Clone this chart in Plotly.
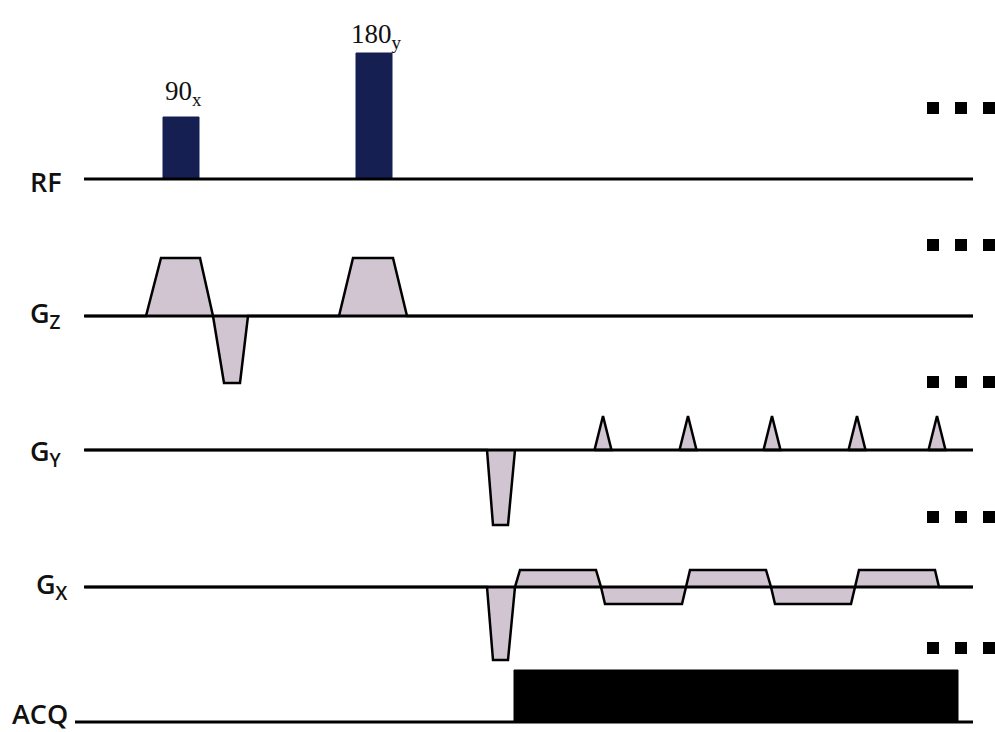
import plotly.graph_objects as go

# ---- timing (arbitrary time units) and amplitudes (arbitrary units) ----
T_END = 888

# RF pulses
rf_names = ["90", "180"]
rf_phase = ["x", "y"]
rf_start = [78, 271]
rf_end = [114, 307]
rf_amp = [62, 126]

# slice-select gradient: excitation lobe, refocusing lobe, crusher/refocus lobe
gz_t = [0, 61, 76, 115, 128, 139, 155, 163, 254, 268, 308, 322, T_END]
gz_a = [0, 0, 58, 58, 0, -67, -67, 0, 0, 58, 58, 0, 0]

# phase-encode gradient: prephaser and blips
gy_t = [0, 402, 408, 423, 430]
gy_a = [0, 0, -75, -75, 0]
blip_centres = [518, 603, 687, 772, 852]
blip_half = 8.5
blip_amp = 34

# readout gradient: prephaser then alternating readout lobes
gx_t = [0, 402, 408, 423, 430, 435, 511, 516, 520, 597, 601, 605, 681, 686,
        690, 766, 770, 774, 850, 854, T_END]
gx_a = [0, 0, -73, -73, 0, 17, 17, 0, -17, -17, 0, 17, 17, 0,
        -17, -17, 0, 17, 17, 0, 0]

# acquisition window
acq_start = 429
acq_end = 873
acq_amp = 52

# continuation markers
dots_t = [848, 876, 904]

channels = ["RF", "G<sub>Z</sub>", "G<sub>Y</sub>", "G<sub>X</sub>", "ACQ"]

# ---- layout constants ----
ROW_BASE = {"RF": 553, "GZ": 416, "GY": 282, "GX": 145, "ACQ": 10}
DOT_Y = [624, 487, 350, 215, 84]
LABEL_Y = [551, 418, 280, 147, 19]
LABEL_X = [0.028, 0.028, 0.028, 0.034, 0.010]
RF_LABEL_GAP = [24, 17]
GRAD_FILL = "#d1c5d2"
RF_FILL = "#151f52"
LINE_W = 2.5

fig = go.Figure()


def add_poly(xs, ys, fill, lw=LINE_W, lc="black"):
    fig.add_trace(go.Scatter(x=xs, y=ys, mode="lines", fill="toself",
                             fillcolor=fill, line=dict(color=lc, width=lw),
                             hoverinfo="skip", showlegend=False))


def add_line(x0, x1, y, w=3.2):
    fig.add_trace(go.Scatter(x=[x0, x1], y=[y, y], mode="lines",
                             line=dict(color="black", width=w),
                             hoverinfo="skip", showlegend=False))


# RF pulses
b = ROW_BASE["RF"]
for s, e, a in zip(rf_start, rf_end, rf_amp):
    add_poly([s, s, e, e, s], [b, b + a, b + a, b, b], RF_FILL, lw=1, lc=RF_FILL)
add_line(-1, T_END, b)

# Gz
b = ROW_BASE["GZ"]
add_poly(gz_t, [b + a for a in gz_a], GRAD_FILL)
add_line(-1, T_END, b)

# Gy
b = ROW_BASE["GY"]
add_poly(gy_t, [b + a for a in gy_a], GRAD_FILL)
for c in blip_centres:
    add_poly([c - blip_half, c, c + blip_half, c - blip_half],
             [b, b + blip_amp, b, b], GRAD_FILL)
add_line(-1, T_END, b)

# Gx
b = ROW_BASE["GX"]
add_poly(gx_t, [b + a for a in gx_a], GRAD_FILL)
add_line(-1, T_END, b)

# ACQ
b = ROW_BASE["ACQ"]
add_line(-10, T_END, b)
add_poly([acq_start, acq_start, acq_end, acq_end, acq_start],
         [b, b + acq_amp, b + acq_amp, b, b], "black", lw=1)

# continuation dots
for y in DOT_Y:
    fig.add_trace(go.Scatter(x=dots_t, y=[y] * len(dots_t), mode="markers",
                             marker=dict(symbol="square", size=12, color="black"),
                             hoverinfo="skip", showlegend=False))

annotations = []
for name, lx, ly in zip(channels, LABEL_X, LABEL_Y):
    annotations.append(dict(text=name, xref="paper", yref="y", x=lx, y=ly,
                            xanchor="left", yanchor="middle", showarrow=False,
                            font=dict(family="Open Sans", size=27, color="#111111",
                                      weight=600)))

b = ROW_BASE["RF"]
for n, p, s, e, a, g in zip(rf_names, rf_phase, rf_start, rf_end, rf_amp,
                            RF_LABEL_GAP):
    annotations.append(dict(text=f"{n}<sub>{p}</sub>", x=(s + e) / 2 + 2,
                            y=b + a + g, xref="x", yref="y", xanchor="center",
                            yanchor="middle", showarrow=False,
                            font=dict(family="Liberation Serif", size=27,
                                      color="#111111")))

fig.update_layout(
    width=995, height=732,
    margin=dict(l=0, r=0, t=0, b=0),
    paper_bgcolor="white", plot_bgcolor="white",
    xaxis=dict(range=[-85, 910], visible=False, fixedrange=True),
    yaxis=dict(range=[0, 732], visible=False, fixedrange=True),
    annotations=annotations,
)

fig.write_html("out.html")
